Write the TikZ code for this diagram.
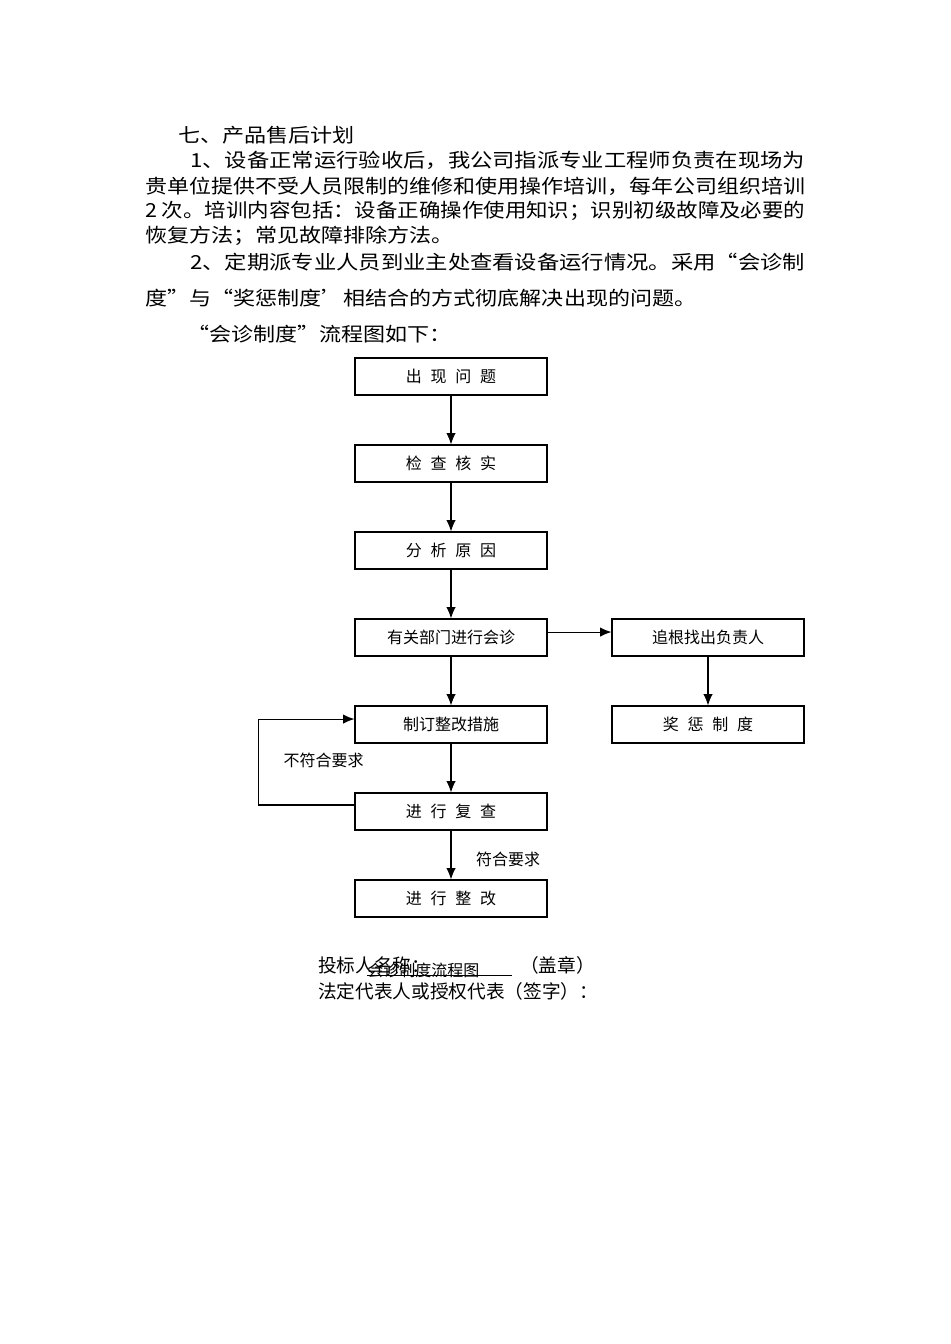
\documentclass[tikz,border=0pt]{standalone}
\usepackage{fontspec}
\usepackage{graphicx}
\usetikzlibrary{arrows.meta,calc}
\newfontfamily\cjk{Noto Sans CJK SC}
\newcommand\gp{\hspace{0.55em}}
\newcommand\fitw[2]{\resizebox{#1}{\height}{#2}}
\newcommand\wide[1]{\scalebox{1.14}[1]{#1}}
\tikzstyle{bx}=[rectangle,draw=black,line width=0.8pt,inner sep=0pt,
  minimum width=144pt,minimum height=27.75pt,font=\cjk\fontsize{12}{14}\selectfont]
\tikzstyle{tx}=[anchor=west,inner sep=0pt,font=\cjk\fontsize{14.5}{16}\selectfont]
\tikzstyle{lb}=[inner sep=0pt,font=\cjk\fontsize{12}{14}\selectfont]
\tikzstyle{ar}=[-{Latex[length=8.5pt,width=7pt]},line width=0.8pt]

\begin{document}
\begin{tikzpicture}[x=0.75pt,y=-0.75pt]
        \useasboundingbox[fill=white] (0,0) rectangle (950,1344);
        % text above the chart
        \node[style=tx] (t0) at (178, 135) {\wide{七、产品售后计划}};
        \node[style=tx] (t1) at (190, 160) {\fitw{461pt}{1、设备正常运行验收后，我公司指派专业工程师负责在现场为}};
        \node[style=tx] (t2) at (145, 186) {\fitw{495pt}{贵单位提供不受人员限制的维修和使用操作培训，每年公司组织培训}};
        \node[style=tx] (t3) at (145, 211) {\fitw{495pt}{2 次。培训内容包括：设备正确操作使用知识；识别初级故障及必要的}};
        \node[style=tx] (t4) at (145, 236) {\wide{恢复方法；常见故障排除方法。}};
        \node[style=tx] (t5) at (190, 262) {\fitw{461pt}{2、定期派专业人员到业主处查看设备运行情况。采用“会诊制}};
        \node[style=tx] (t6) at (145, 298) {\wide{度”与“奖惩制度’相结合的方式彻底解决出现的问题。}};
        \node[style=tx] (t7) at (187, 334) {\wide{“会诊制度”流程图如下：}};
        % chart
        \node[style=bx] (1) at (451, 376.5) {出\gp 现\gp 问\gp 题};
        \node[style=bx] (2) at (451, 463.5) {检\gp 查\gp 核\gp 实};
        \node[style=bx] (3) at (451, 550.5) {分\gp 析\gp 原\gp 因};
        \node[style=bx] (4) at (451, 637.5) {有关部门进行会诊};
        \node[style=bx] (5) at (451, 724.5) {制订整改措施};
        \node[style=bx] (6) at (451, 811.5) {进\gp 行\gp 复\gp 查};
        \node[style=bx] (7) at (451, 898.5) {进\gp 行\gp 整\gp 改};
        \node[style=bx] (8) at (708, 637.5) {追根找出负责人};
        \node[style=bx] (9) at (708, 724.5) {奖\gp 惩\gp 制\gp 度};
        \node[style=lb] (no) at (323.5, 760) {不符合要求};
        \node[style=lb] (ok) at (508, 859) {符合要求};
        \draw[style=ar] (1) to (2);
        \draw[style=ar] (2) to (3);
        \draw[style=ar] (3) to (4);
        \draw[style=ar] (4) to (5);
        \draw[style=ar] (5) to (6);
        \draw[style=ar] (6) to (7);
        \draw[style=ar] (8) to (9);
        \draw[style=ar] ([yshift=4.1pt]4.east) to ([yshift=4.1pt]8.west);
        \draw[style=ar] ([yshift=4.9pt]6.west) -- ++(-96,0) |- ([yshift=4.1pt]5.west);
        % signature lines
        \node[style=tx,font=\cjk\fontsize{14}{16}\selectfont] (s1) at (318, 965) {投标人名称：};
        \node[style=tx,font=\cjk\fontsize{14}{16}\selectfont] (s2) at (520, 965) {（盖章）};
        \node[style=tx,font=\cjk\fontsize{14}{16}\selectfont] (s3) at (318, 991) {法定代表人或授权代表（签字）：};
        \node[style=lb,anchor=west] (cap) at (367, 970) {会诊制度流程图};
        \coordinate (u1) at (367, 975);
        \coordinate (u2) at (512, 975);
        \draw[line width=0.6pt] (u1) -- (u2);
    \end{tikzpicture}
\end{document}
